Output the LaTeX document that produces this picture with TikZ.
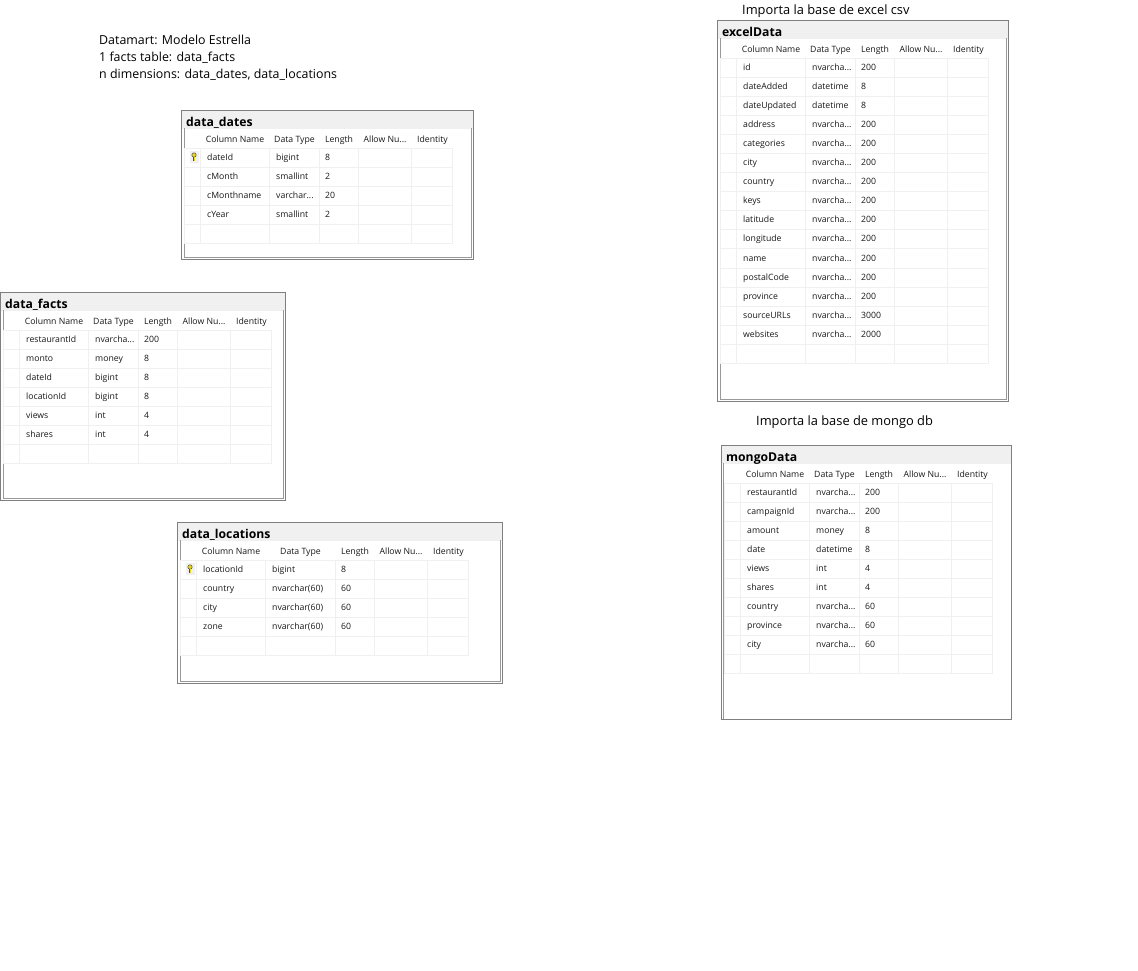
\documentclass[tikz,border=0pt]{standalone}
\usepackage{fontspec}
\usepackage{xcolor}
\setmainfont{Open Sans}

\definecolor{framegray}{HTML}{7F7F7F}
\definecolor{bandgray}{HTML}{F0F0F0}
\definecolor{gridgray}{HTML}{F0F0F0}
\definecolor{keyyellow}{HTML}{E8D820}

\newcommand{\nvch}{nvarcha{.}{.}{.}}
\newcommand{\vch}{varchar{.}{.}{.}}

\tikzset{
	caption/.style={anchor=base west,inner sep=0pt,font=\fontsize{12.4}{14}\selectfont},
	sidecaption/.style={caption,font=\fontsize{12.85}{14}\selectfont},
	tabletitle/.style={anchor=base west,inner sep=0pt,font=\fontsize{12.2}{15}\selectfont\bfseries},
	headcell/.style={anchor=base,inner sep=0pt,text=black!90,font=\fontsize{8.7}{10}\selectfont},
	rowcell/.style={anchor=base west,inner sep=0pt,text=black!90,font=\fontsize{8.7}{10}\selectfont},
	gridline/.style={draw=gridgray,line width=0.9pt},
	innerrule/.style={draw=framegray!80,line width=0.8pt}
}

% node name, title, x, y, width, height, type column, rows, contents
\newcommand{\dbtable}[9]{
	\begin{scope}[shift={(#3,#4)}]
		\fill[bandgray] (1,1) rectangle (#5-1,18.5);
		\draw[framegray,line width=1pt] (0.5,0.5) rectangle (#5-0.5,#6-0.5);
		\path[innerrule] (3,18) -- (3,#6-3) -- (#5-3,#6-3) -- (#5-3,18);
		\pgfmathsetmacro{\cb}{88+#7}
		\pgfmathsetmacro{\cc}{\cb+39}
		\pgfmathsetmacro{\cd}{\cc+53}
		\pgfmathsetmacro{\ce}{\cd+41}
		\pgfmathsetmacro{\gridbottom}{38+19.1*(#8+1)}
		\foreach \cx in {3,19,88,\cb,\cc,\cd,\ce}
			\draw[gridline] (\cx,38) -- (\cx,\gridbottom);
		\draw[gridline] (3,38) -- (\ce,38);
		\foreach \r in {0,...,#8}
			\draw[gridline] (3,{57+19.1*\r}) -- (\ce,{57+19.1*\r});
		\node[tabletitle] (#1) at (5,16.5) {#2};
		\node[headcell] (#1-hname) at ({(19+88)/2+0.5},32) {Column Name};
		\node[headcell] (#1-htype) at ({(88+\cb)/2+0.5},32) {Data Type};
		\node[headcell] (#1-hlen) at ({(\cb+\cc)/2+0.5},32) {Length};
		\node[headcell] (#1-hnull) at ({(\cc+\cd)/2+0.5},32) {Allow Nu...};
		\node[headcell] (#1-hid) at ({(\cd+\ce)/2+1},32) {Identity};
		\foreach \cname/\ctype/\clen [count=\i from 0] in {#9} {
			\node[rowcell] (#1-name\i) at (26,{50+19.1*\i}) {\cname};
			\node[rowcell] (#1-type\i) at (95,{50+19.1*\i}) {\ctype};
			\node[rowcell] (#1-len\i) at (\cb+6,{50+19.1*\i}) {\clen};
		}
	\end{scope}
}

% primary key mark in the selector cell
\newcommand{\pkmark}[2]{
	\begin{scope}[shift={(#1,#2)}]
		\fill[bandgray] (-4.5,-6) rectangle (5,6);
		\draw[black!70,fill=keyyellow,line width=0.5pt] (0,-2) circle (2.2);
		\draw[black!70,line width=1.6pt] (0,0) -- (0,4);
		\draw[keyyellow,line width=0.7pt] (0,0) -- (0,3.6);
	\end{scope}
}

\begin{document}
\begin{tikzpicture}[x=1pt,y=-1pt]
	\useasboundingbox[fill=white] (0,0) rectangle (1138,970);

	\node[caption] (note1) at (99,44) {Datamart: Modelo Estrella};
	\node[caption] (note2) at (99,61) {1 facts table: data\_facts};
	\node[caption] (note3) at (99,78) {n dimensions: data\_dates, data\_locations};
	\node[sidecaption] (excelnote) at (742,14) {Importa la base de excel csv};
	\node[sidecaption] (mongonote) at (756,425.5) {Importa la base de mongo db};

	\dbtable{dates}{data\_dates}{181}{110}{293}{150}{50}{4}{
		dateId/bigint/8,
		cMonth/smallint/2,
		cMonthname/\vch/20,
		cYear/smallint/2}
	\pkmark{194}{157}

	\dbtable{facts}{data\_facts}{0}{292}{286}{209}{50}{6}{
		restaurantId/\nvch/200,
		monto/money/8,
		dateId/bigint/8,
		locationId/bigint/8,
		views/int/4,
		shares/int/4}

	\dbtable{locations}{data\_locations}{177}{522}{326}{162}{70}{4}{
		locationId/bigint/8,
		country/nvarchar(60)/60,
		city/nvarchar(60)/60,
		zone/nvarchar(60)/60}
	\pkmark{190}{569}

	\dbtable{excel}{excelData}{717}{20}{292}{382}{50}{15}{
		id/\nvch/200,
		dateAdded/datetime/8,
		dateUpdated/datetime/8,
		address/\nvch/200,
		categories/\nvch/200,
		city/\nvch/200,
		country/\nvch/200,
		keys/\nvch/200,
		latitude/\nvch/200,
		longitude/\nvch/200,
		name/\nvch/200,
		postalCode/\nvch/200,
		province/\nvch/200,
		sourceURLs/\nvch/3000,
		websites/\nvch/2000}

	% this one is cut off: single rule apart from the left side
	\begin{scope}[innerrule/.style={}]
		\dbtable{mongo}{mongoData}{721}{445}{291}{275}{50}{9}{
			restaurantId/\nvch/200,
			campaignId/\nvch/200,
			amount/money/8,
			date/datetime/8,
			views/int/4,
			shares/int/4,
			country/\nvch/60,
			province/\nvch/60,
			city/\nvch/60}
	\end{scope}
	\draw[framegray!80,line width=0.8pt] (723.5,463) -- (723.5,719);
\end{tikzpicture}
\end{document}
